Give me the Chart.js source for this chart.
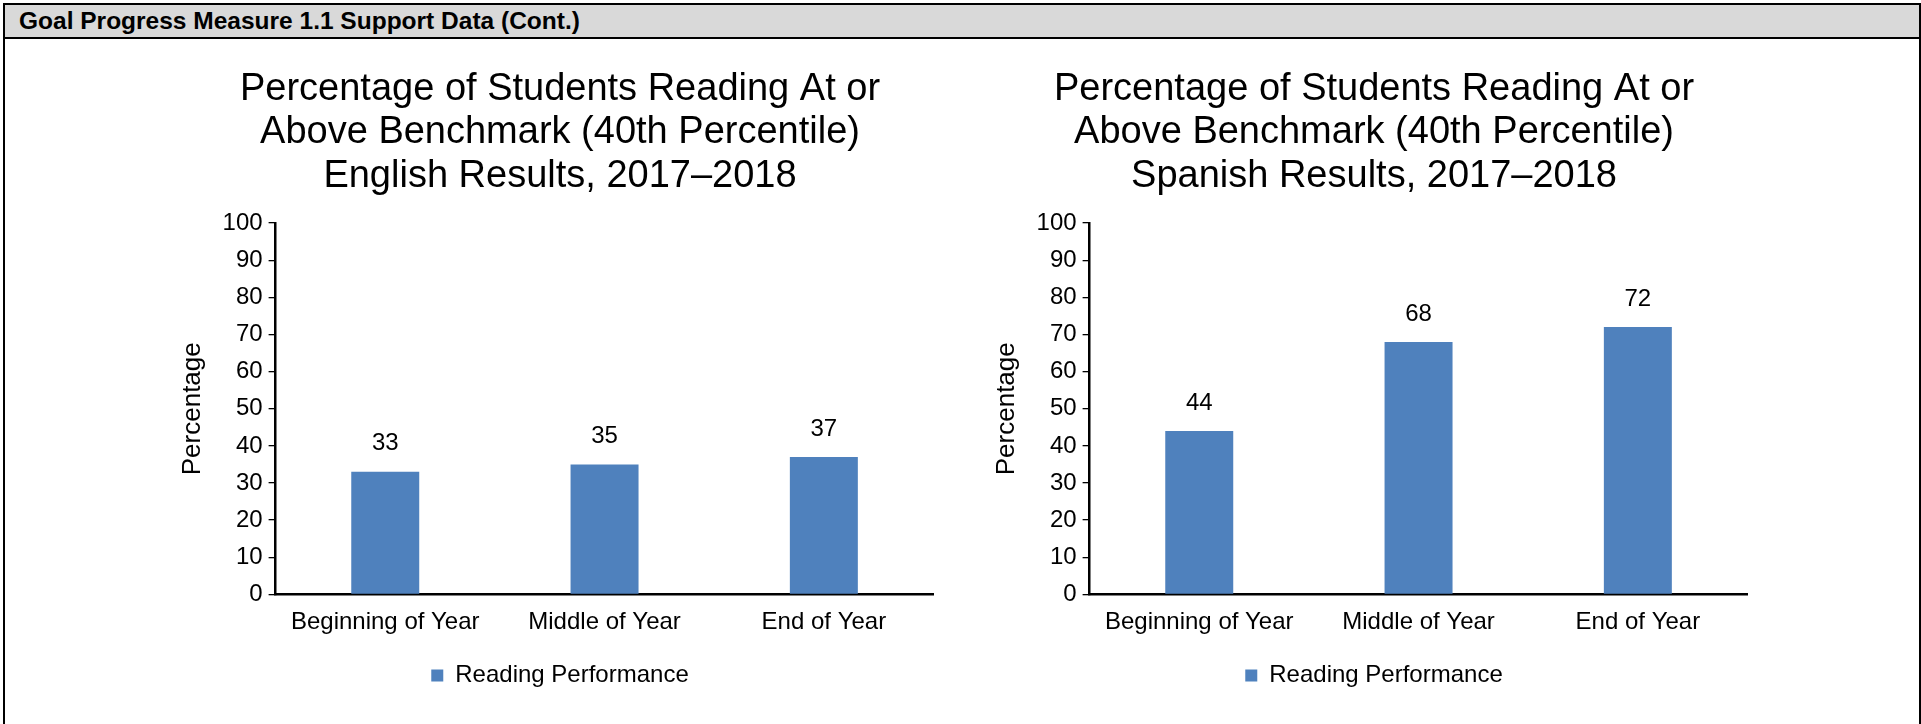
<!DOCTYPE html>
<html>
<head>
<meta charset="utf-8">
<script src="https://cdn.jsdelivr.net/npm/chart.js@4/dist/chart.umd.min.js"></script>
<style>
  body { margin: 0; background: #fff; font-family: "Liberation Sans", Arial, sans-serif; }
  #box { position: absolute; left: 3px; top: 3px; width: 1918px; height: 730px; border: 2px solid #000; border-bottom: none; box-sizing: border-box; }
  #head { height: 32px; line-height: 32px; background: #d9d9d9; border-bottom: 2px solid #000; font-weight: bold; font-size: 24.5px; padding-left: 14px; color: #000; }
  canvas { position: absolute; top: 40px; }
  #a { left: 140px; }
  #b { left: 954px; }
</style>
</head>
<body>
<div id="box"><div id="head">Goal Progress Measure 1.1 Support Data (Cont.)</div></div>
<canvas id="a" width="844" height="684"></canvas>
<canvas id="b" width="844" height="684"></canvas>
<script>
const periods = ["Beginning of Year", "Middle of Year", "End of Year"];
const englishValues = [33, 35, 37];
const spanishValues = [44, 68, 72];
const englishTitle = ["Percentage of Students Reading At or", "Above Benchmark (40th Percentile)", "English Results, 2017\u20132018"];
const spanishTitle = ["Percentage of Students Reading At or", "Above Benchmark (40th Percentile)", "Spanish Results, 2017\u20132018"];
const seriesName = "Reading Performance";

const FONT = "'Liberation Sans', Arial, sans-serif";
const BLUE = "#4f81bd";

// values above bars
const barLabels = {
  id: "barLabels",
  afterDatasetsDraw(chart) {
    const ctx = chart.ctx;
    ctx.save();
    ctx.font = "24px " + FONT;
    ctx.fillStyle = "#000";
    ctx.textAlign = "center";
    ctx.textBaseline = "middle";
    chart.getDatasetMeta(0).data.forEach((el, i) => {
      ctx.fillText(chart.data.datasets[0].data[i], el.x, el.y - 28);
    });
    ctx.restore();
  }
};

function makeChart(id, title, values) {
  return new Chart(document.getElementById(id), {
    type: "bar",
    data: {
      labels: periods,
      datasets: [{
        label: seriesName,
        data: values,
        backgroundColor: BLUE,
        borderWidth: 0,
        categoryPercentage: 1,
        barPercentage: 0.31
      }]
    },
    options: {
      responsive: false,
      animation: false,
      devicePixelRatio: 1,
      layout: { padding: { left: 46.5, right: 50.5, top: 0, bottom: 26.6 } },
      plugins: {
        tooltip: { enabled: false },
        title: {
          display: true,
          text: title,
          color: "#000",
          font: { family: FONT, size: 38, weight: "normal", lineHeight: 1.15 },
          padding: { top: 27.2, bottom: 24.8 }
        },
        legend: {
          position: "bottom",
          labels: { color: "#000", boxWidth: 12, boxHeight: 12, padding: 10, font: { family: FONT, size: 24 } }
        }
      },
      scales: {
        x: {
          grid: { display: false, drawTicks: false },
          border: { display: true, color: "#000", width: 2.5 },
          ticks: { color: "#000", padding: 14, font: { family: FONT, size: 24 } },
          afterFit(s) { s.height = 59; }
        },
        y: {
          min: 0,
          max: 100,
          ticks: { stepSize: 10, color: "#000", padding: 6, font: { family: FONT, size: 24 } },
          grid: { drawOnChartArea: false, drawTicks: true, tickLength: 7, color: "#000", lineWidth: 1.3 },
          border: { display: true, color: "#000", width: 2.5 },
          title: {
            display: true,
            text: "Percentage",
            color: "#000",
            font: { family: FONT, size: 26 },
            padding: { top: -9.1, bottom: 0 }
          },
          afterFit(s) { s.width = 89.1; }
        }
      }
    },
    plugins: [barLabels]
  });
}

makeChart("a", englishTitle, englishValues);
makeChart("b", spanishTitle, spanishValues);
</script>
</body>
</html>
